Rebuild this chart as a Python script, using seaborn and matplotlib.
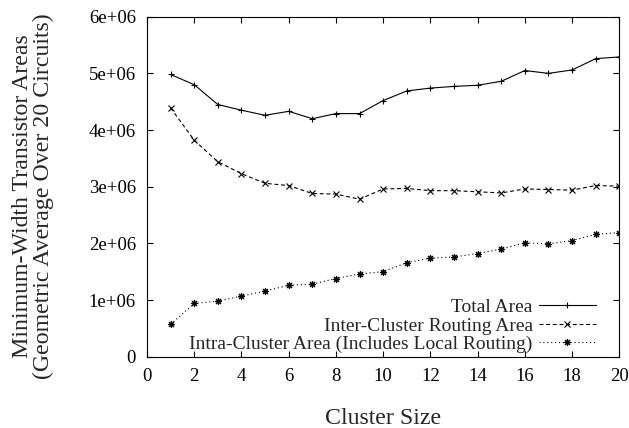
import matplotlib
matplotlib.use("Agg")
import matplotlib.pyplot as plt
import seaborn as sns
import pandas as pd

cluster_size = list(range(1, 21))
total_area = [4.98e6, 4.80e6, 4.45e6, 4.35e6, 4.26e6, 4.33e6, 4.20e6, 4.29e6, 4.29e6, 4.52e6,
              4.69e6, 4.74e6, 4.77e6, 4.79e6, 4.86e6, 5.05e6, 5.00e6, 5.06e6, 5.26e6, 5.29e6]
inter_area = [4.39e6, 3.82e6, 3.44e6, 3.23e6, 3.06e6, 3.02e6, 2.88e6, 2.87e6, 2.78e6, 2.96e6,
              2.97e6, 2.93e6, 2.93e6, 2.91e6, 2.89e6, 2.96e6, 2.95e6, 2.94e6, 3.02e6, 3.01e6]
intra_area = [0.57e6, 0.94e6, 0.98e6, 1.07e6, 1.16e6, 1.26e6, 1.28e6, 1.38e6, 1.46e6, 1.50e6,
              1.66e6, 1.74e6, 1.76e6, 1.82e6, 1.90e6, 2.01e6, 1.99e6, 2.05e6, 2.16e6, 2.19e6]
series_names = ["Total Area", "Inter-Cluster Routing Area",
                "Intra-Cluster Area (Includes Local Routing)"]
x_ticks = [0, 2, 4, 6, 8, 10, 12, 14, 16, 18, 20]
y_ticks = [0, 1e6, 2e6, 3e6, 4e6, 5e6, 6e6]
y_tick_labels = ["0", "1e+06", "2e+06", "3e+06", "4e+06", "5e+06", "6e+06"]

sns.set_style("ticks")
plt.rcParams["font.family"] = ["Liberation Serif", "DejaVu Serif"]

fig = plt.figure(figsize=(6.29, 4.28), dpi=100)
ax = fig.add_axes([147 / 629, 1 - 356.7 / 428, (619.3 - 147) / 629, (356.7 - 16.7) / 428])

styles = [("-", "+", 5.0), ((0, (3.5, 2.5)), "x", 4.0), ((0, (1, 2.5)), (8, 2, 0), 5.0)]
for name, vals, (ls, mk, ms) in zip(series_names, [total_area, inter_area, intra_area], styles):
    df = pd.DataFrame({"x": cluster_size, "y": vals})
    sns.lineplot(data=df, x="x", y="y", ax=ax, color="black", linestyle=ls, marker=mk,
                 markersize=ms, markeredgewidth=0.8, markeredgecolor="black",
                 markerfacecolor="black", linewidth=0.8, label=name)

ax.set_xlim(0, 20)
ax.set_ylim(0, 6e6)
ax.set_xticks(x_ticks)
ax.set_xticklabels([str(t) for t in x_ticks])
ax.set_yticks(y_ticks)
ax.set_yticklabels(y_tick_labels)
ax.tick_params(direction="in", top=True, right=True, length=4, width=0.8, labelsize=13.5,
               pad=8, colors="black")
for sp in ax.spines.values():
    sp.set_visible(True)
    sp.set_linewidth(0.8)
    sp.set_color("black")

ax.set_xlabel("Cluster Size", fontsize=17.2)
ax.xaxis.set_label_coords(0.5, -0.151)
ax.set_ylabel("Minimum-Width Transistor Areas\n(Geometric Average Over 20 Circuits)",
              fontsize=17.2, linespacing=1.0)
ax.yaxis.set_label_coords(-0.196, 0.4726)

ax.legend(loc="lower right", frameon=False, markerfirst=False, fontsize=14,
          handlelength=2.94, handletextpad=0.31, labelspacing=0.05, borderpad=0.0,
          borderaxespad=0.0, bbox_to_anchor=(0.9507, 0.01))

fig.savefig("out.png", dpi=100)
